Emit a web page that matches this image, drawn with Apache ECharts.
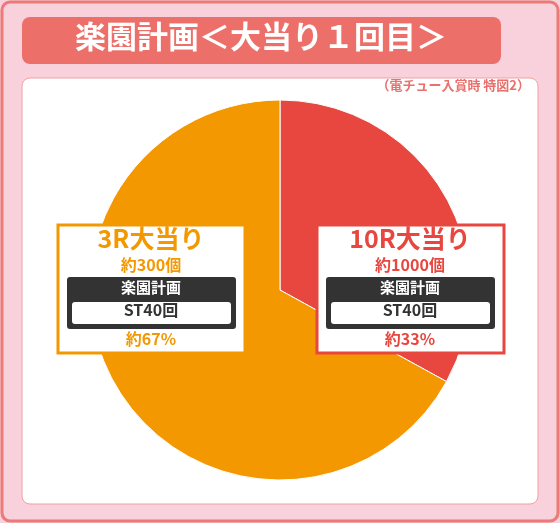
<!DOCTYPE html>
<html>
<head>
<meta charset="utf-8">
<script src="https://cdn.jsdelivr.net/npm/echarts@6/dist/echarts.min.js"></script>
<style>html,body{margin:0;padding:0;background:#fff}#chart{width:560px;height:523px}</style>
</head>
<body>
<div id="chart"></div>
<script>
var chart = echarts.init(document.getElementById('chart'));
var FONT = '"Noto Sans CJK JP", sans-serif';

// data
var names = ['10R大当り', '3R大当り'];
var values = [33, 67];
var counts = ['約1000個', '約300個'];
var colors = ['#e8473f', '#f39800'];
var title = '楽園計画＜大当り１回目＞';
var subtitle = '（電チュー入賞時 特図2）';

// label box for each slice
function labelBox(x, i) {
  var c = colors[i];
  return {
    type: 'group', x: x, y: 225, z: 100,
    children: [
      {type: 'rect', z: 100, shape: {width: 187, height: 128}, style: {fill: '#fff', stroke: c, lineWidth: 3}},
      {type: 'text', z: 101, x: 93, y: 1, style: {text: names[i], font: 'bold 25px ' + FONT, fill: c, align: 'center'}},
      {type: 'text', z: 101, x: 93, y: 32, style: {text: counts[i], font: 'bold 16px ' + FONT, fill: c, align: 'center'}},
      {type: 'rect', z: 101, shape: {x: 9, y: 52, width: 169, height: 52, r: 3}, style: {fill: '#333'}},
      {type: 'text', z: 102, x: 93, y: 55, style: {text: '楽園計画', font: 'bold 15px ' + FONT, fill: '#fff', align: 'center'}},
      {type: 'rect', z: 102, shape: {x: 14, y: 77, width: 159, height: 22, r: 3}, style: {fill: '#fff'}},
      {type: 'text', z: 103, x: 93, y: 77, style: {text: 'ST40回', font: 'bold 16px ' + FONT, fill: '#333', align: 'center'}},
      {type: 'text', z: 101, x: 93, y: 106, style: {text: '約' + values[i] + '%', font: 'bold 16px ' + FONT, fill: c, align: 'center'}}
    ]
  };
}

var option = {
  backgroundColor: '#f9d1dc',
  animation: false,
  graphic: [
    {type: 'rect', z: -10, shape: {x: 2, y: 2, width: 556, height: 519, r: 8}, style: {fill: '#f9d1dc', stroke: '#ec7a76', lineWidth: 3}},
    {type: 'rect', z: -10, shape: {x: 22, y: 17, width: 479, height: 47, r: 8}, style: {fill: '#ed6f6a'}},
    {type: 'text', z: -9, x: 261, y: 21, style: {text: title, font: 'bold 31px ' + FONT, fill: '#fff', align: 'center'}},
    {type: 'rect', z: -10, shape: {x: 22, y: 78, width: 516, height: 426, r: 8}, style: {fill: '#fff', stroke: '#f0a0a0', lineWidth: 1}},
    {type: 'text', z: -9, x: 530, y: 79, style: {text: subtitle, font: 'bold 13px ' + FONT, fill: '#e9706c', align: 'right'}},
    labelBox(317, 0),
    labelBox(58, 1)
  ],
  series: [{
    type: 'pie',
    z: 1,
    center: [280, 290],
    radius: [0, 190],
    startAngle: 90,
    clockwise: true,
    label: {show: false},
    labelLine: {show: false},
    itemStyle: {borderColor: '#fff', borderWidth: 1},
    data: names.map(function (n, i) {
      return {name: n, value: values[i], itemStyle: {color: colors[i]}};
    })
  }]
};
chart.setOption(option);
</script>
</body>
</html>
